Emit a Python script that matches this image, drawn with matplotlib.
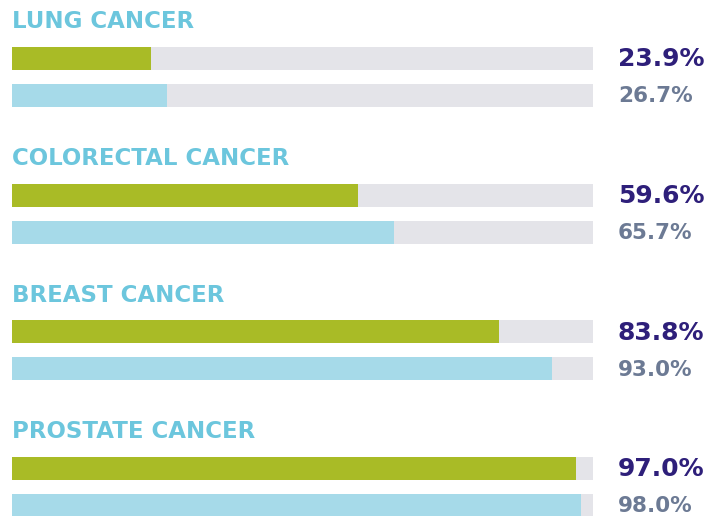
import matplotlib
matplotlib.use("Agg")
import matplotlib.pyplot as plt

categories = ["LUNG CANCER", "COLORECTAL CANCER", "BREAST CANCER", "PROSTATE CANCER"]
series_a = [23.9, 59.6, 83.8, 97.0]
series_b = [26.7, 65.7, 93.0, 98.0]
labels_a = ["23.9%", "59.6%", "83.8%", "97.0%"]
labels_b = ["26.7%", "65.7%", "93.0%", "98.0%"]

W, H = 710, 516
fig = plt.figure(figsize=(W / 100, H / 100), dpi=100)
x0, x1 = 12, 593
ax = fig.add_axes([x0 / W, 0, (x1 - x0) / W, 1])
ax.set_xlim(0, 100)
ax.set_ylim(H, 0)
ax.axis("off")

green = "#A9BB26"
blue = "#A6DAE9"
track = "#E4E4E9"
title_c = "#6CC6DD"
dark = "#2E1F7A"
grey = "#6C7A94"

group_gap = 136.5
bar_h = 23
for i, cat in enumerate(categories):
    base = i * group_gap
    ya = base + 47 + bar_h / 2
    yb = base + 84 + bar_h / 2
    ax.barh([ya, yb], [100, 100], height=bar_h, color=track, left=0)
    ax.barh([ya], [series_a[i]], height=bar_h, color=green)
    ax.barh([yb], [series_b[i]], height=bar_h, color=blue)
    ax.text(0, base + 22, cat, color=title_c, fontsize=16.5, fontweight="bold",
            va="center", ha="left", family="DejaVu Sans", clip_on=False)
    ax.text(104.3, ya + 1, labels_a[i], color=dark, fontsize=18, fontweight="bold",
            va="center", ha="left", family="DejaVu Sans", clip_on=False)
    ax.text(104.3, yb + 1, labels_b[i], color=grey, fontsize=15.5, fontweight="bold",
            va="center", ha="left", family="DejaVu Sans", clip_on=False)

fig.savefig("out.png", dpi=100)
